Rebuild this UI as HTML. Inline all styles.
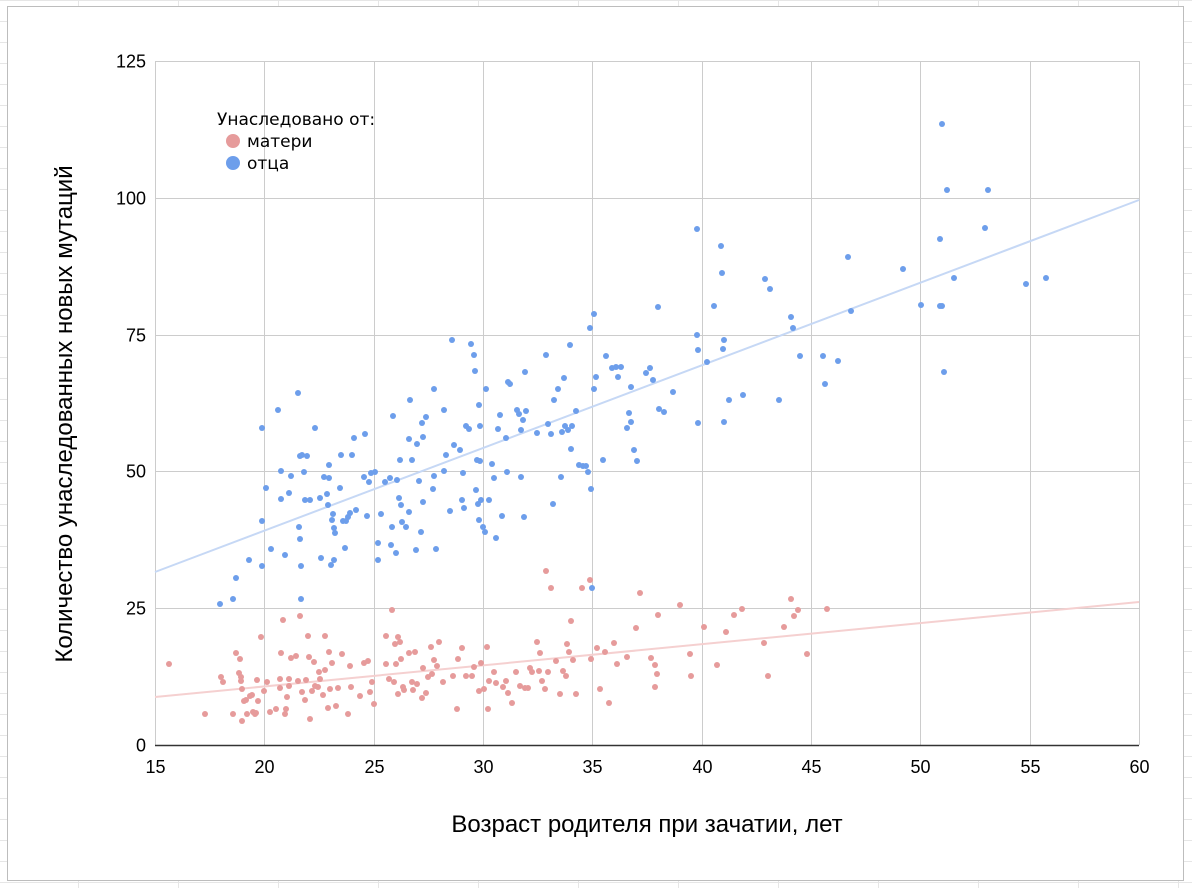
<!DOCTYPE html>
<html><head><meta charset="utf-8"><style>
html,body{margin:0;padding:0;background:#fff;}
svg{display:block;}
</style></head><body>
<svg id="s" width="1192" height="888" xmlns="http://www.w3.org/2000/svg" font-family="Liberation Sans, sans-serif">
<g stroke="#e6e6e6" stroke-width="1" id="bg"></g>
<rect x="7.5" y="6.5" width="1176" height="874" fill="#fff" stroke="#bdbdbd"/>
<g stroke="#cccccc" stroke-width="1" id="grid"></g>
<line x1="155" y1="745.5" x2="1139" y2="745.5" stroke="#333" stroke-width="1.5"/>
<g id="lab" font-size="18" fill="#000"></g>
<text x="647" y="832" font-size="24" text-anchor="middle" fill="#000">Возраст родителя при зачатии, лет</text>
<text transform="translate(72,414) rotate(-90)" font-size="24" text-anchor="middle" fill="#000">Количество унаследованных новых мутаций</text>
<line x1="155" y1="572" x2="1139" y2="200" stroke="#c6d8f5" stroke-width="2"/>
<line x1="155" y1="697" x2="1139" y2="602" stroke="#f5d0d0" stroke-width="2"/>
<g id="pts"></g>
<text x="217" y="125" font-size="17" font-family="DejaVu Sans, sans-serif" fill="#000">Унаследовано от:</text>
<circle cx="233" cy="141" r="7" fill="#e69b9b"/>
<text x="247" y="147" font-size="17" font-family="DejaVu Sans, sans-serif" fill="#000">матери</text>
<circle cx="233" cy="163" r="7" fill="#6d9eeb"/>
<text x="247" y="169" font-size="17" font-family="DejaVu Sans, sans-serif" fill="#000">отца</text>
</svg>
<script>
var NS="http://www.w3.org/2000/svg";
function el(p,t,a,tx){var e=document.createElementNS(NS,t);for(var k in a)e.setAttribute(k,a[k]);if(tx)e.textContent=tx;document.getElementById(p).appendChild(e);}
for(var x=-22;x<1192;x+=100){el("bg","line",{x1:x+0.5,y1:0,x2:x+0.5,y2:888});}
for(var y=0;y<888;y+=21){el("bg","line",{x1:0,y1:y+0.5,x2:1192,y2:y+0.5});}
for(var i=0;i<10;i++){var xx=Math.round(155+i*984/9)+0.5;el("grid","line",{x1:xx,y1:61,x2:xx,y2:745});
el("lab","text",{x:xx,y:773,"text-anchor":"middle"},String(15+i*5));}
for(var j=0;j<6;j++){var yy=Math.round(745-j*684/5)+0.5;el("grid","line",{x1:155,y1:yy,x2:1139,y2:yy});
el("lab","text",{x:146,y:yy+6,"text-anchor":"end"},String(j*25));}
var B=[220,604,233,599,236,578,249,560,262,428,262,521,262,566,266,488,271,549,278,410,281,471,281,499,285,555,289,493,291,476,298,393,299,527,300,456,300,539,301,599,301,566,302,455,304,472,305,500,307,456,310,500,315,428,320,498,321,558,324,477,327,494,328,505,329,465,329,478,331,565,332,520,333,514,334,528,335,533,334,560,340,488,341,455,343,521,345,548,346,521,348,517,350,513,352,455,354,438,356,510,364,477,365,434,367,516,369,482,371,473,375,472,378,543,378,560,381,514,385,482,390,478,391,545,392,527,393,416,396,553,397,480,399,498,400,460,401,505,402,522,406,527,409,439,410,400,409,512,412,460,416,550,417,444,419,481,422,423,423,437,421,532,423,502,426,417,433,489,434,389,434,476,436,549,444,471,444,410,446,455,450,511,452,340,454,445,460,450,462,500,463,473,464,508,466,426,469,429,471,344,474,355,475,371,476,490,477,460,478,504,479,520,479,405,480,426,480,461,481,500,483,527,485,532,486,389,489,500,492,464,494,478,496,538,498,429,500,415,502,516,506,438,507,472,508,382,510,384,517,410,519,414,521,477,521,430,523,420,524,517,525,372,526,411,537,433,546,355,548,424,551,434,553,504,554,400,558,389,561,477,562,432,564,378,565,426,568,430,570,345,571,449,572,426,576,411,579,465,583,466,586,466,588,472,590,328,591,489,592,588,594,314,594,389,596,377,603,460,606,356,612,368,616,367,618,377,621,367,627,428,629,413,631,387,631,422,634,450,637,461,646,373,650,368,653,380,658,307,659,409,664,412,673,392,697,229,697,335,698,350,698,423,707,362,714,306,721,246,722,273,723,349,724,340,724,422,729,400,743,395,765,279,770,289,779,400,791,317,793,328,800,356,823,356,825,384,838,361,848,257,851,311,903,269,921,305,940,239,940,306,942,306,944,372,942,124,947,190,954,278,985,228,988,190,1026,284,1046,278];
var R=[169,664,205,714,221,677,223,682,233,714,236,653,239,673,240,659,241,677,241,681,242,689,242,721,244,701,246,700,247,714,250,696,252,695,253,712,255,714,256,713,257,680,258,701,261,637,264,691,267,682,270,712,276,709,280,688,280,679,281,653,283,620,285,714,286,709,287,697,289,679,289,686,291,658,296,656,298,681,300,616,302,692,305,700,306,680,308,636,309,657,310,719,312,691,314,662,315,686,318,687,319,672,320,679,323,695,325,636,325,670,328,708,329,652,330,689,332,663,336,706,338,688,342,654,348,714,350,666,351,687,360,696,364,663,368,661,370,692,372,682,374,704,386,636,386,664,389,679,392,610,394,682,395,644,396,664,398,637,398,694,400,642,401,659,403,687,404,690,409,653,412,682,413,690,415,652,417,684,422,698,423,668,426,693,428,677,431,647,432,674,434,660,437,666,439,642,443,682,453,676,457,709,458,659,462,648,466,676,472,676,474,667,479,691,481,663,484,689,487,647,488,709,489,681,494,672,496,683,503,687,506,681,508,693,512,703,516,672,520,686,525,688,528,688,530,668,532,672,537,642,539,671,540,653,542,681,545,689,546,571,548,672,551,588,556,661,560,694,563,671,566,676,567,644,569,652,571,621,573,660,576,694,582,588,590,580,591,659,597,648,600,689,605,652,609,703,614,643,617,664,627,657,636,628,640,593,651,658,655,665,655,687,657,674,658,615,680,605,690,654,691,676,704,627,717,665,726,632,734,615,742,609,764,643,768,676,784,627,791,599,794,616,798,610,807,654,827,609];
for(var k=0;k<R.length;k+=2)el("pts","circle",{cx:R[k],cy:R[k+1],r:3,fill:"#e69b9b"});
for(var k=0;k<B.length;k+=2)el("pts","circle",{cx:B[k],cy:B[k+1],r:3,fill:"#6d9eeb"});
</script>
</body></html>
